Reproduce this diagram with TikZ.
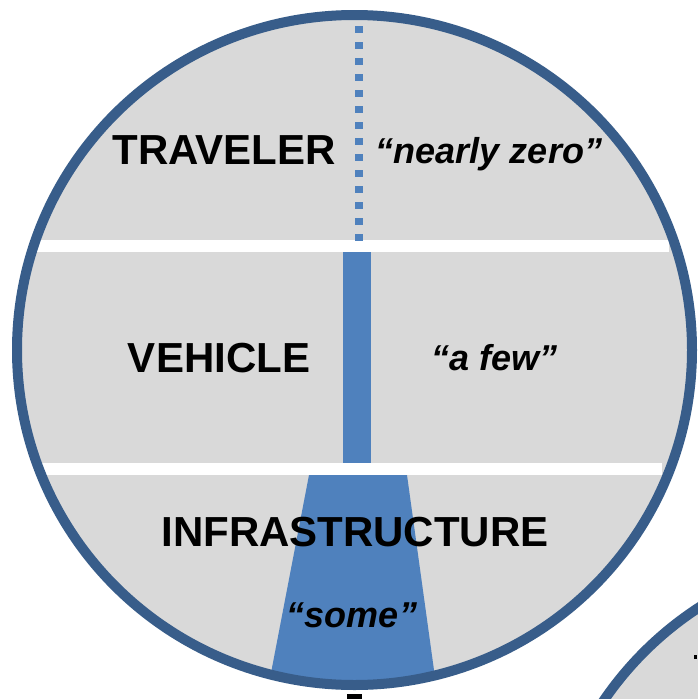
\documentclass[tikz,border=0pt]{standalone}
\usepackage{fontspec}
\setmainfont{Liberation Sans}
\usepackage{tikz}
\usetikzlibrary{positioning}
\definecolor{ringblue}{RGB}{56, 93, 138}
\definecolor{barblue}{RGB}{79, 129, 189}
\definecolor{layergray}{RGB}{217, 217, 217}
\tikzset{
    layerlabel/.style={font=\fontsize{42}{42}\selectfont\bfseries, anchor=base, inner sep=0pt},
    quotelabel/.style={font=\fontsize{36}{36}\selectfont\bfseries\itshape, anchor=base, inner sep=0pt},
    ring/.style={draw=ringblue, line width=10pt},
    layerband/.style={fill=white}
}

\begin{document}
\begin{tikzpicture}[x=1pt, y=-1pt]
    \useasboundingbox (0,0) rectangle (697,699);
    % neighbouring ring, bottom right
    \fill[layergray] (883,891) circle[radius=338];
    \draw[ring] (883,891) circle[radius=338];
    \fill (694,655) rectangle (697,659);

    % main ring
    \fill[layergray] (354.5,350) ellipse[x radius=337.5, y radius=335];
    \fill[layerband] (35,240) rectangle (669,252);
    \fill[layerband] (38,463) rectangle (662,475);

    % traveler: dotted, vehicle: bar, infrastructure: widening
    \draw[barblue, line width=8pt, dash pattern=on 7pt off 9pt] (359,26) -- (359,242);
    \fill[barblue] (343,252) rectangle (371,463);
    \begin{scope}
        \clip (354.5,350) ellipse[x radius=337.5, y radius=335];
        \fill[barblue] (309,475) -- (407,475) -- (438,699) -- (266,699) -- cycle;
    \end{scope}

    \node[layerlabel] (traveler) at (224,164) {TRAVELER};
    \node[quotelabel] (travelerq) at (489,163) {“nearly zero”};
    \node[layerlabel] (vehicle) at (219,372) {VEHICLE};
    \node[quotelabel] (vehicleq) at (495,370) {“a few”};
    \node[layerlabel] (infra) at (355,546) {INFRASTRUCTURE};
    \node[quotelabel] (infraq) at (352,627) {“some”};

    \draw[ring] (354.5,350) ellipse[x radius=337.5, y radius=335];
    \fill (347,694) rectangle (362,699);
\end{tikzpicture}
\end{document}
